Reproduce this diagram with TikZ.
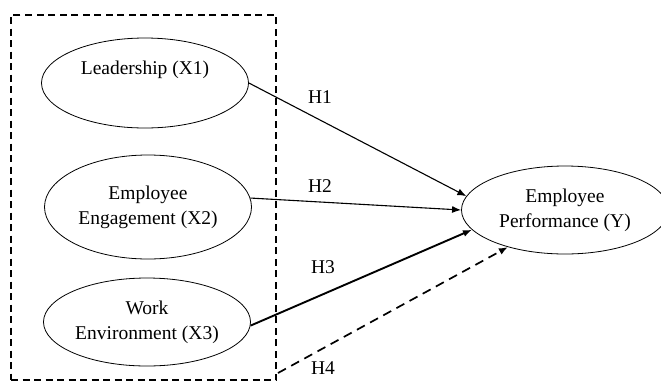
\documentclass[tikz,border=0pt]{standalone}
\usepackage{fontspec}
\setmainfont{Liberation Serif}
\usetikzlibrary{arrows.meta,shapes.geometric}

\tikzset{
    varnode/.style={draw, ellipse, line width=0.8pt, inner sep=0pt, align=center,
        minimum width=207pt, minimum height=89pt},
    hypo/.style={-{Latex[length=9pt,width=7pt]}, line width=1.1pt},
    hlabel/.style={inner sep=0pt}
}

\begin{document}
\begin{tikzpicture}[x=1pt, y=-1pt, font=\fontsize{19.5}{25}\selectfont]
    \useasboundingbox (0,0) rectangle (661,381);

    % Group of independent variables
    \node[draw, line width=1.7pt, dash pattern=on 7pt off 4.5pt, inner sep=0pt,
        minimum width=265pt, minimum height=365pt] (frame) at (143.5,197.5) {};

    % Independent variables
    \node[varnode, minimum height=90pt] (lead) at (145,83) {};
    \node (leadtxt) at ([yshift=13pt]lead.center) {Leadership (X1)};
    \node[varnode, minimum height=104pt] (eng) at (148,207) {Employee\\Engagement (X2)};
    \node[varnode, minimum height=88pt] (work) at (147,322) {Work\\Environment (X3)};

    % Dependent variable
    \node[varnode, minimum height=88pt] (perf) at (565,210) {Employee\\Performance (Y)};

    % Hypotheses
    \coordinate (h4start) at (278,373);
    \draw[hypo] (lead.east) -- (perf.172);
    \draw[hypo] (eng.5) -- (perf.west);
    \draw[hypo, line width=1.9pt] (work.-2) -- (perf.192);
    \draw[hypo, line width=1.7pt, dash pattern=on 9pt off 6pt] (h4start) -- (perf.213);

    % Labels for hypotheses
    \node[hlabel] (h1lab) at (320,97) {H1};
    \node[hlabel] (h2lab) at (320,186) {H2};
    \node[hlabel] (h3lab) at (323,267) {H3};
    \node[hlabel] (h4lab) at (323,368) {H4};
\end{tikzpicture}
\end{document}
